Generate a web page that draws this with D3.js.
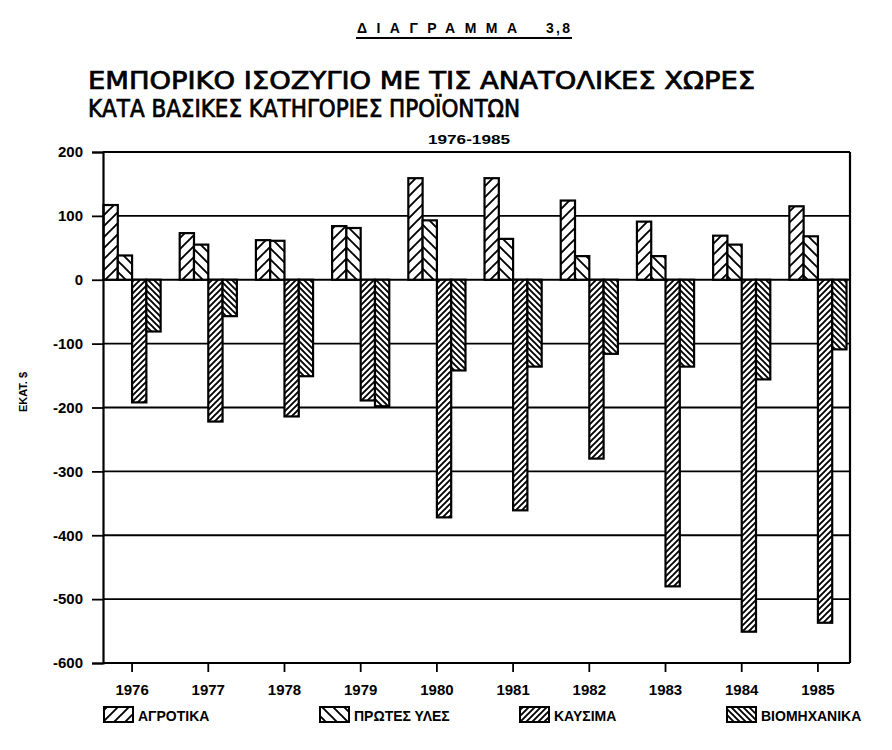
<!DOCTYPE html>
<html><head><meta charset="utf-8">
<script src="https://cdn.jsdelivr.net/npm/d3@7"></script>
<style>body{margin:0;background:#fff}svg{display:block}</style>
</head><body>
<script>
const years = ["1976","1977","1978","1979","1980","1981","1982","1983","1984","1985"];
const seriesNames = ["ΑΓΡΟΤΙΚΑ","ΠΡΩΤΕΣ ΥΛΕΣ","ΚΑΥΣΙΜΑ","ΒΙΟΜΗΧΑΝΙΚΑ"];
const agrotika     = [117, 73, 62, 84, 159, 159, 124, 91, 69, 115];
const protesYles   = [38, 55, 61, 81, 93, 64, 37, 37, 55, 68];
const kaysima      = [-192, -222, -214, -189, -372, -361, -280, -480, -551, -537];
const biomixanika  = [-81, -57, -151, -198, -142, -136, -116, -136, -156, -109];
const yTicks = [200, 100, 0, -100, -200, -300, -400, -500, -600];
const yTickLabels = ["200","100","0","-100","-200","-300","-400","-500","-600"];
const title0a = "ΔΙΑΓΡΑΜΜΑ";
const title0b = "3,8";
const title1 = "ΕΜΠΟΡΙΚΟ ΙΣΟΖΥΓΙΟ ΜΕ ΤΙΣ ΑΝΑΤΟΛΙΚΕΣ ΧΩΡΕΣ";
const title2 = "ΚΑΤΑ ΒΑΣΙΚΕΣ ΚΑΤΗΓΟΡΙΕΣ ΠΡΟΪΟΝΤΩΝ";
const subtitle = "1976-1985";
const yLabel = "ΕΚΑΤ. $";

const seriesValues = [agrotika, protesYles, kaysima, biomixanika];
const patIds = ["pA","pB","pC","pD"];

const W = 892, H = 750;
const svg = d3.select("body").append("svg").attr("width", W).attr("height", H);
const defs = svg.append("defs");
function hatch(id, size, dir, sw) {
  const p = defs.append("pattern").attr("id", id).attr("patternUnits","userSpaceOnUse")
    .attr("width", size).attr("height", size);
  p.append("rect").attr("width", size).attr("height", size).attr("fill","#fff");
  const s = size;
  const d = dir > 0
    ? `M${-s/4},${s/4} L${s/4},${-s/4} M0,${s} L${s},0 M${s*0.75},${s*1.25} L${s*1.25},${s*0.75}`
    : `M${-s/4},${s*0.75} L${s/4},${s*1.25} M0,0 L${s},${s} M${s*0.75},${-s/4} L${s*1.25},${s/4}`;
  p.append("path").attr("d", d).attr("stroke","#000").attr("stroke-width", sw);
}
hatch("pA", 11, 1, 1.9);
hatch("pB", 11, -1, 1.9);
hatch("pC", 6, 1, 1.9);
hatch("pD", 6, -1, 1.9);

const pLeft = 103, pRight = 850, pTop = 152, pBottom = 663;
const y = d3.scaleLinear().domain([-600, 200]).range([pBottom, pTop]);
const x = d3.scaleBand().domain(years).range([103.5, 846.5]).paddingInner(0.25).paddingOuter(0);
const xs = d3.scaleBand().domain(seriesNames).range([0, x.bandwidth()]);

const font = "'Liberation Sans', 'DejaVu Sans', Arial, sans-serif";
const condFont = "'DejaVu Sans Condensed', 'Liberation Sans Narrow', 'DejaVu Sans', sans-serif";

// gridlines
svg.append("g").selectAll("line").data(yTicks).join("line")
  .attr("x1", pLeft).attr("x2", pRight).attr("y1", d => y(d)).attr("y2", d => y(d))
  .attr("stroke","#000").attr("stroke-width", 1.8);

// bars
const gBars = svg.append("g");
seriesNames.forEach((s, si) => {
  gBars.append("g").selectAll("rect").data(years.map((yr, i) => ({yr, v: seriesValues[si][i]}))).join("rect")
    .attr("x", d => x(d.yr) + xs(s))
    .attr("width", xs.bandwidth())
    .attr("y", d => y(Math.max(0, d.v)))
    .attr("height", d => Math.abs(y(d.v) - y(0)))
    .attr("fill", `url(#${patIds[si]})`)
    .attr("stroke", "#000").attr("stroke-width", 2.2);
});

// y axis
const yAxis = d3.axisLeft(y).tickValues(yTicks).tickFormat((d, i) => yTickLabels[i]).tickSize(11).tickPadding(9);
const gy = svg.append("g").attr("transform", `translate(${pLeft},0)`).call(yAxis);
gy.select(".domain").attr("stroke-width", 2.2);
gy.selectAll(".tick line").attr("stroke-width", 1.8);
gy.selectAll("text").attr("font-family", font).attr("font-weight","bold").attr("font-size", 15).attr("fill","#000");

// right border
svg.append("line").attr("x1", pRight).attr("x2", pRight).attr("y1", pTop).attr("y2", pBottom)
  .attr("stroke","#000").attr("stroke-width", 2.2);

// x axis
const xAxis = d3.axisBottom(x).tickSize(9).tickPadding(12).tickSizeOuter(0);
const gx = svg.append("g").attr("transform", `translate(0,${pBottom})`).call(xAxis);
gx.select(".domain").remove();
gx.selectAll(".tick line").attr("stroke-width", 1.8);
gx.selectAll("text").attr("font-family", font).attr("font-weight","bold").attr("font-size", 15).attr("fill","#000");

// titles
const t0 = svg.append("text").attr("y", 33)
  .attr("font-family", font).attr("font-weight","bold").attr("font-size", 14);
t0.append("tspan").attr("x", 357).attr("textLength", 160).attr("lengthAdjust","spacing").text(title0a);
t0.append("tspan").attr("x", 540).attr("textLength", 30).attr("lengthAdjust","spacing").text(" " + title0b);
svg.append("line").attr("x1", 356).attr("x2", 572).attr("y1", 38).attr("y2", 38)
  .attr("stroke","#000").attr("stroke-width", 2);
svg.append("text").attr("x", 88).attr("y", 89)
  .attr("font-family", condFont).attr("font-size", 24).attr("stroke","#000").attr("stroke-width", 0.7)
  .attr("textLength", 667).attr("lengthAdjust","spacingAndGlyphs").text(title1);
svg.append("text").attr("x", 88).attr("y", 117)
  .attr("font-family", condFont).attr("font-size", 24).attr("stroke","#000").attr("stroke-width", 0.7)
  .attr("textLength", 432).attr("lengthAdjust","spacingAndGlyphs").text(title2);
svg.append("text").attr("x", 469).attr("y", 144).attr("text-anchor","middle")
  .attr("font-family", font).attr("font-weight","bold").attr("font-size", 13)
  .attr("textLength", 82).attr("lengthAdjust","spacingAndGlyphs").text(subtitle);

// y label
svg.append("text").attr("transform", "translate(27,392) rotate(-90)").attr("text-anchor","middle")
  .attr("font-family", font).attr("font-weight","bold").attr("font-size", 11).text(yLabel);

// legend
const legX = [104, 320, 520, 727];
const leg = svg.append("g");
seriesNames.forEach((s, i) => {
  leg.append("rect").attr("x", legX[i]).attr("y", 707).attr("width", 29).attr("height", 15)
    .attr("fill", `url(#${patIds[i]})`).attr("stroke","#000").attr("stroke-width", 2);
  leg.append("text").attr("x", legX[i] + 34).attr("y", 721)
    .attr("font-family", font).attr("font-weight","bold").attr("font-size", 14).text(s);
});
</script>
</body></html>
